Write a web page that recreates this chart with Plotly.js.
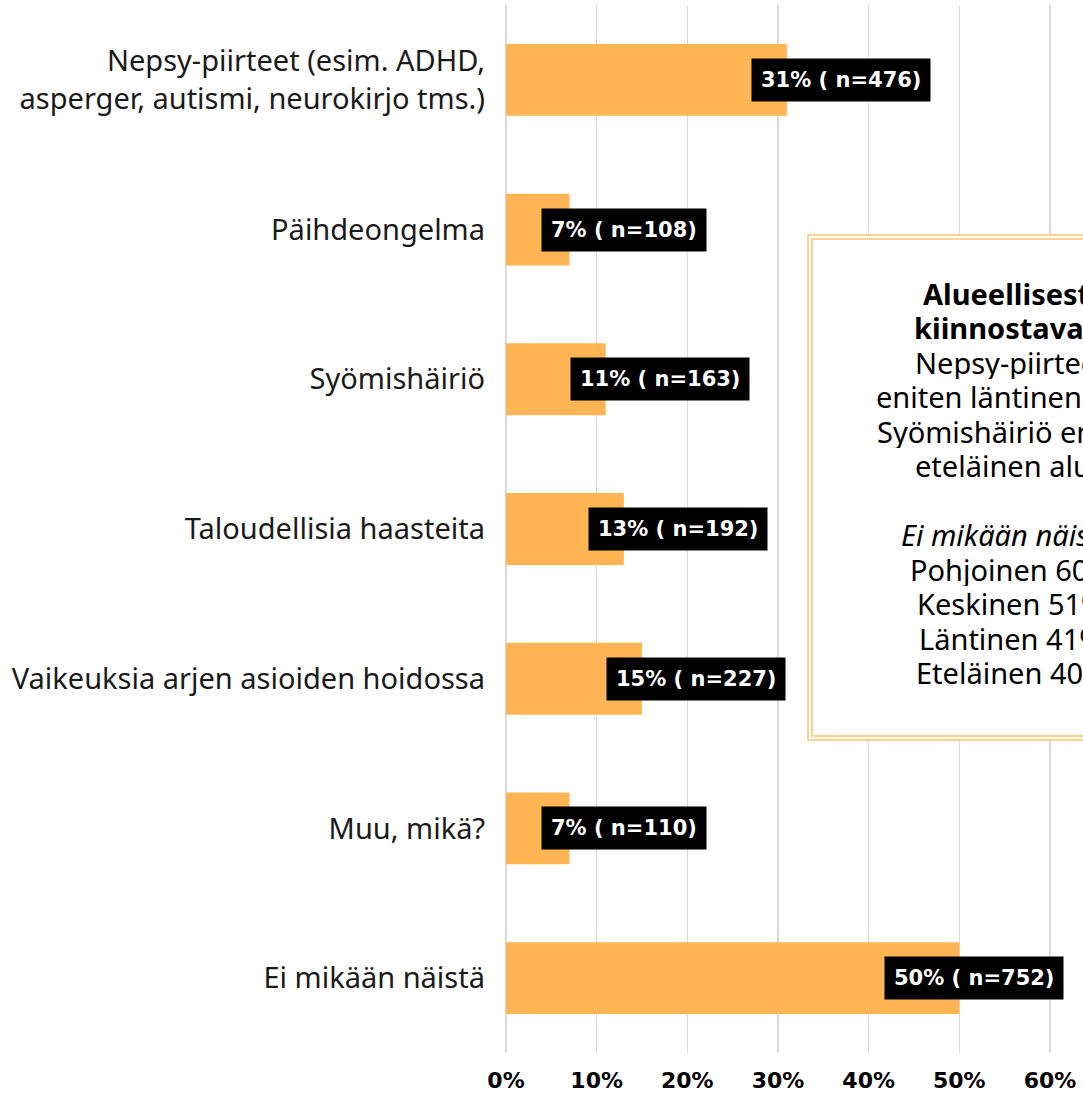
<!DOCTYPE html>
<html>
<head>
<meta charset="utf-8">
<script src="https://cdn.plot.ly/plotly-3.0.1.min.js"></script>
<style>
html, body { margin:0; padding:0; overflow:hidden; background:#fff; }
#chart { width:1083px; height:1097px; }
</style>
</head>
<body>
<div id="chart"></div>
<script>
const categories = [
  "Nepsy-piirteet (esim. ADHD,<br>asperger, autismi, neurokirjo tms.)",
  "Päihdeongelma",
  "Syömishäiriö",
  "Taloudellisia haasteita",
  "Vaikeuksia arjen asioiden hoidossa",
  "Muu, mikä?",
  "Ei mikään näistä"
];
const percents = [31, 7, 11, 13, 15, 7, 50];
const counts = [476, 108, 163, 192, 227, 110, 752];

const boxText = [
  "<b>Alueellisesti</b>",
  "<b>kiinnostavaa:</b>",
  "Nepsy-piirteet",
  "eniten läntinen alue",
  "Syömishäiriö eniten",
  "eteläinen alue",
  "",
  "<i>Ei mikään näistä:</i>",
  "Pohjoinen 60%",
  "Keskinen 51%",
  "Läntinen 41%",
  "Eteläinen 40%"
];

const W = 1083, H = 1097;
const M = { l: 506, r: 0, t: 5, b: 44 };
const plotH = H - M.t - M.b;
const plotW = W - M.l - M.r;
const pxToPaperY = py => (H - M.b - py) / plotH;
const pxToPaperX = px => (px - M.l) / plotW;

const xs = percents.map(p => p / 100);

const trace = {
  type: 'bar',
  orientation: 'h',
  x: xs,
  y: categories,
  width: 0.48,
  marker: { color: '#FFB554' },
  hoverinfo: 'skip'
};

const labelAnnotations = percents.map((p, i) => ({
  x: Math.min(xs[i] + 0.06, 0.516),
  y: categories[i],
  xref: 'x', yref: 'y',
  text: p + '% ( n=' + counts[i] + ')',
  showarrow: false,
  xanchor: 'center', yanchor: 'middle',
  bgcolor: '#000000',
  borderpad: 9,
  font: { family: 'DejaVu Sans', size: 21, color: '#ffffff', weight: 'bold' }
}));

// text box lines
const boxCenterX = 1011, boxCenterY = 482.5, lineGap = 34.5;
const boxAnnotations = boxText.map((t, i) => ({
  x: pxToPaperX(boxCenterX),
  y: pxToPaperY(boxCenterY + (i - (boxText.length - 1) / 2) * lineGap),
  xref: 'paper', yref: 'paper',
  text: t,
  showarrow: false,
  height: 34,
  borderpad: 0,
  xanchor: 'center', yanchor: 'middle',
  font: { family: 'Noto Sans', size: 29, color: '#000000' }
})).filter(a => a.text !== '');

const layout = {
  width: W,
  height: H,
  margin: M,
  paper_bgcolor: '#ffffff',
  plot_bgcolor: '#ffffff',
  showlegend: false,
  xaxis: {
    range: [0, 0.6364],
    dtick: 0.1,
    tick0: 0,
    tickformat: '.0%',
    showgrid: true,
    gridcolor: '#D9D9D9',
    gridwidth: 1.5,
    zeroline: true,
    zerolinecolor: '#D9D9D9',
    zerolinewidth: 1.5,
    showline: false,
    ticks: '',
    ticklabelstandoff: 12,
    tickfont: { family: 'DejaVu Sans', size: 22, color: '#000000', weight: 'bold' },
    fixedrange: true
  },
  yaxis: {
    autorange: 'reversed',
    showgrid: false,
    zeroline: false,
    showline: false,
    ticks: '',
    ticklabelstandoff: 20,
    tickfont: { family: 'Noto Sans', size: 29, color: '#1a1a1a' },
    fixedrange: true
  },
  shapes: [
    {
      type: 'rect', xref: 'paper', yref: 'paper',
      x0: pxToPaperX(808), x1: pxToPaperX(1228), y0: pxToPaperY(740), y1: pxToPaperY(235),
      fillcolor: '#ffffff',
      line: { color: '#FFC472', width: 1.5 },
      layer: 'above'
    },
    {
      type: 'rect', xref: 'paper', yref: 'paper',
      x0: pxToPaperX(812), x1: pxToPaperX(1224), y0: pxToPaperY(736), y1: pxToPaperY(239),
      fillcolor: 'rgba(0,0,0,0)',
      line: { color: '#FFC472', width: 1.5 },
      layer: 'above'
    }
  ],
  annotations: labelAnnotations.concat(boxAnnotations)
};

Plotly.newPlot('chart', [trace], layout, { displayModeBar: false, staticPlot: true });
</script>
</body>
</html>
